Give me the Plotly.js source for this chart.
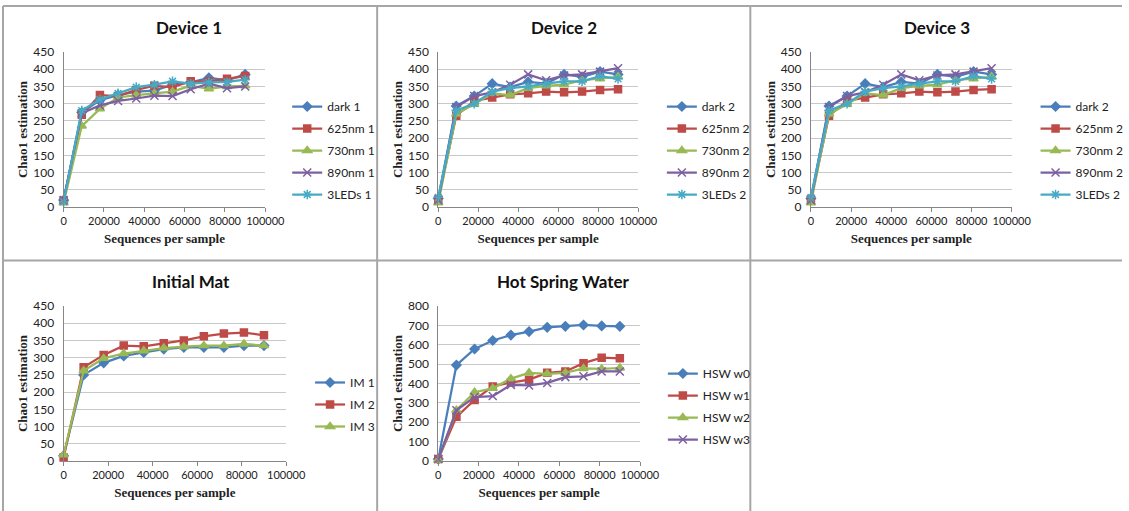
<!DOCTYPE html>
<html>
<head>
<meta charset="utf-8">
<script src="https://cdn.plot.ly/plotly-3.0.1.min.js"></script>
<style>html,body{margin:0;padding:0;background:#fff;overflow:hidden;width:1129px;height:511px;}#chart{width:1129px;height:511px;overflow:hidden;}</style>
</head>
<body>
<div id="chart"></div>
<script>
// ---- data ----
const seqPerSample = [0, 9000, 18000, 27000, 36000, 45000, 54000, 63000, 72000, 81000, 90000];

const panelTitles = ["Device 1", "Device 2", "Device 3", "Initial Mat", "Hot Spring Water"];
const xAxisTitle = "Sequences per sample";
const yAxisTitle = "Chao1 estimation";

// Device 1
const dev1Names = ["dark 1", "625nm 1", "730nm 1", "890nm 1", "3LEDs 1"];
const dev1Dark  = [20, 275, 310, 325, 335, 338, 355, 362, 375, 368, 385];
const dev1R625  = [18, 268, 325, 322, 340, 352, 348, 365, 365, 372, 380];
const dev1R730  = [12, 235, 285, 318, 325, 330, 335, 352, 343, 350, 352];
const dev1R890  = [20, 272, 295, 308, 315, 323, 322, 342, 358, 345, 350];
const dev1LEDs  = [15, 280, 312, 330, 348, 355, 365, 358, 362, 363, 370];

// Device 2
const dev2Names = ["dark 2", "625nm 2", "730nm 2", "890nm 2", "3LEDs 2"];
const dev2Dark  = [25, 293, 322, 358, 348, 363, 358, 385, 378, 393, 385];
const dev2R625  = [22, 265, 308, 318, 327, 330, 335, 333, 335, 340, 342];
const dev2R730  = [12, 270, 298, 330, 325, 345, 352, 355, 368, 372, 378];
const dev2R890  = [20, 290, 322, 333, 355, 385, 368, 382, 385, 393, 403];
const dev2LEDs  = [28, 280, 300, 335, 345, 350, 358, 365, 365, 380, 372];

// Device 3 (labelled "... 2" in the original)
const dev3Names = ["dark 2", "625nm 2", "730nm 2", "890nm 2", "3LEDs 2"];
const dev3Dark  = [25, 293, 322, 358, 348, 363, 358, 385, 378, 393, 385];
const dev3R625  = [22, 265, 308, 318, 327, 330, 335, 333, 335, 340, 342];
const dev3R730  = [12, 270, 298, 330, 325, 345, 352, 355, 368, 372, 378];
const dev3R890  = [20, 290, 322, 333, 355, 385, 368, 382, 385, 393, 403];
const dev3LEDs  = [28, 280, 300, 335, 345, 350, 358, 365, 365, 380, 372];

// Initial Mat
const imNames = ["IM 1", "IM 2", "IM 3"];
const im1 = [15, 250, 285, 305, 315, 325, 330, 330, 330, 335, 335];
const im2 = [10, 272, 308, 335, 333, 342, 350, 362, 370, 373, 365];
const im3 = [18, 262, 298, 312, 320, 328, 332, 335, 335, 340, 335];

// Hot Spring Water
const hswNames = ["HSW w0", "HSW w1", "HSW w2", "HSW w3"];
const hswW0 = [10, 495, 578, 622, 650, 668, 690, 695, 702, 697, 695];
const hswW1 = [10, 228, 315, 385, 405, 420, 455, 462, 505, 533, 530];
const hswW2 = [5, 262, 355, 375, 425, 455, 450, 455, 478, 475, 480];
const hswW3 = [10, 262, 330, 335, 393, 390, 403, 433, 437, 462, 462];

// ---- styles ----
const styles = [
  {color: "#4a7ebb", symbol: "diamond", size: 7},
  {color: "#be4b48", symbol: "square", size: 7},
  {color: "#98b954", symbol: "triangle-up", size: 8},
  {color: "#7d60a0", symbol: "x-thin-open", size: 8},
  {color: "#46aac5", symbol: "asterisk-open", size: 8}
];

const W = 1129, H = 511;
const px = v => v / W;
const py = v => 1 - v / H;

const panels = [
  {names: dev1Names, series: [dev1Dark, dev1R625, dev1R730, dev1R890, dev1LEDs], x: [64, 267], y: [52, 207], ymax: 450, dy: 50, legend: [289, 92], title: [190, 27]},
  {names: dev2Names, series: [dev2Dark, dev2R625, dev2R730, dev2R890, dev2LEDs], x: [441, 642], y: [52, 207], ymax: 450, dy: 50, legend: [666, 92], title: [568, 27]},
  {names: dev3Names, series: [dev3Dark, dev3R625, dev3R730, dev3R890, dev3LEDs], x: [816, 1018], y: [52, 207], ymax: 450, dy: 50, legend: [1042, 92], title: [943, 27]},
  {names: imNames, series: [im1, im2, im3], x: [64, 288], y: [306, 461], ymax: 450, dy: 50, legend: [312, 368], title: [192, 281]},
  {names: hswNames, series: [hswW0, hswW1, hswW2, hswW3], x: [441, 644], y: [306, 461], ymax: 800, dy: 100, legend: [667, 359], title: [567, 281]}
];

const yTickFont = {family: "Lato, 'Liberation Sans', sans-serif", size: 12, color: "#222"};
const xTickFont = {family: "Lato, 'Liberation Sans', sans-serif", size: 11, color: "#222"};
const axTitleFont = {family: "'Liberation Serif', 'DejaVu Serif', serif", size: 13, color: "#222", weight: "bold"};

const data = [];
const layout = {
  width: W, height: H, autosize: false,
  margin: {l: 0, r: 0, t: 0, b: 0},
  paper_bgcolor: "#fff", plot_bgcolor: "#fff",
  annotations: [], shapes: []
};

panels.forEach((p, i) => {
  const n = i + 1;
  const xa = n === 1 ? "x" : "x" + n;
  const ya = n === 1 ? "y" : "y" + n;
  const lg = n === 1 ? "legend" : "legend" + n;
  p.series.forEach((vals, j) => {
    const s = styles[j];
    data.push({
      type: "scatter", mode: "lines+markers",
      x: seqPerSample, y: vals, name: p.names[j],
      xaxis: xa, yaxis: ya, legend: lg, legendgroup: "p" + n + "s" + j,
      line: {color: s.color, width: 2.25},
      marker: {symbol: s.symbol, size: s.size, color: s.color, line: {color: s.color, width: 1.5}},
      cliponaxis: false
    });
  });
  layout["xaxis" + (n === 1 ? "" : n)] = {
    domain: [px(p.x[0]), px(p.x[1])], anchor: ya,
    range: [0, 100000], dtick: 20000, tick0: 0, tickformat: "d", tickangle: 0,
    showgrid: false, zeroline: false,
    showline: true, linecolor: "#868686", linewidth: 1,
    ticks: "outside", ticklen: 4, tickcolor: "#868686",
    tickfont: xTickFont,
    title: {text: xAxisTitle, font: axTitleFont, standoff: 7}
  };
  layout["yaxis" + (n === 1 ? "" : n)] = {
    domain: [py(p.y[1]), py(p.y[0])], anchor: xa,
    range: [0, p.ymax], dtick: p.dy, tick0: 0,
    showgrid: true, gridcolor: "#c8c8c8", gridwidth: 1, zeroline: false,
    showline: true, linecolor: "#868686", linewidth: 1,
    ticks: "", ticklabelstandoff: 6,
    tickfont: yTickFont,
    title: {text: yAxisTitle, font: axTitleFont, standoff: 2}
  };
  layout[lg] = {
    x: px(p.legend[0]), y: py(p.legend[1]), xanchor: "left", yanchor: "top",
    xref: "paper", yref: "paper",
    bgcolor: "rgba(0,0,0,0)", borderwidth: 0,
    font: {family: "Lato, 'Liberation Sans', sans-serif", size: 12, color: "#222"},
    tracegroupgap: 3, itemwidth: 30
  };
  layout.annotations.push({
    text: panelTitles[i], xref: "paper", yref: "paper",
    x: px(p.title[0]), y: py(p.title[1]), xanchor: "center", yanchor: "middle",
    showarrow: false,
    font: {family: "Lato, 'Liberation Sans', sans-serif", size: 17, color: "#111", weight: "bold"}
  });
});

// panel borders
const borderLine = {color: "#a6a6a6", width: 2};
const seg = (x0, y0, x1, y1) => ({type: "line", xref: "paper", yref: "paper",
  x0: px(x0), y0: py(y0), x1: px(x1), y1: py(y1), line: borderLine, layer: "below"});
layout.shapes.push(seg(3, 6, 1129, 6));
layout.shapes.push(seg(3, 6, 3, 511));
layout.shapes.push(seg(379.5, 6, 379.5, 511));
layout.shapes.push(seg(755, 6, 755, 511));
layout.shapes.push(seg(3, 260.5, 1129, 260.5));

Plotly.newPlot("chart", data, layout, {staticPlot: true, displayModeBar: false});
</script>
</body>
</html>
